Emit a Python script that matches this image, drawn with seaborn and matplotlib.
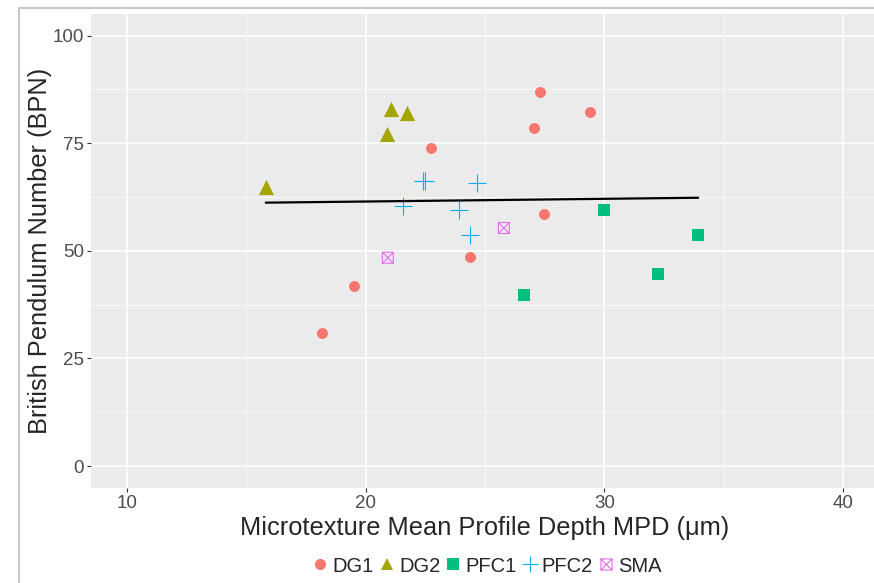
import numpy as np
import pandas as pd
import seaborn as sns
import matplotlib.pyplot as plt
from matplotlib.path import Path
from matplotlib.patches import Rectangle
from matplotlib.lines import Line2D

# values
dg1_mpd = [18.17, 19.51, 22.74, 24.37, 27.05, 27.30, 27.47, 29.39]
dg1_bpn = [31.0, 41.9, 73.9, 48.6, 78.5, 86.8, 58.6, 82.2]
dg2_mpd = [15.82, 20.89, 21.06, 21.73]
dg2_bpn = [64.8, 77.1, 82.9, 82.0]
pfc1_mpd = [26.63, 29.98, 32.25, 33.93]
pfc1_bpn = [39.8, 59.5, 44.7, 53.7]
pfc2_mpd = [22.40, 22.48, 21.56, 23.91, 24.37, 24.66]
pfc2_bpn = [66.2, 66.2, 60.4, 59.5, 53.7, 65.7]
sma_mpd = [20.93, 25.79]
sma_bpn = [48.4, 55.3]

groups = ["DG1", "DG2", "PFC1", "PFC2", "SMA"]
colors = ["#F8766D", "#A3A500", "#00BF7D", "#00B0F6", "#E76BF3"]

df = pd.concat([
    pd.DataFrame({"MPD": dg1_mpd, "BPN": dg1_bpn, "Site": "DG1"}),
    pd.DataFrame({"MPD": dg2_mpd, "BPN": dg2_bpn, "Site": "DG2"}),
    pd.DataFrame({"MPD": pfc1_mpd, "BPN": pfc1_bpn, "Site": "PFC1"}),
    pd.DataFrame({"MPD": pfc2_mpd, "BPN": pfc2_bpn, "Site": "PFC2"}),
    pd.DataFrame({"MPD": sma_mpd, "BPN": sma_bpn, "Site": "SMA"}),
], ignore_index=True)

# boxed cross marker (ggplot shape 7)
boxx = Path(
    [(-1, -1), (1, -1), (1, 1), (-1, 1), (-1, -1), (-1, -1), (1, 1), (-1, 1), (1, -1)],
    [Path.MOVETO, Path.LINETO, Path.LINETO, Path.LINETO, Path.CLOSEPOLY,
     Path.MOVETO, Path.LINETO, Path.MOVETO, Path.LINETO],
)

styles = {
    "DG1": dict(marker="o", s=62, linewidth=0),
    "DG2": dict(marker="^", s=120, linewidth=0),
    "PFC1": dict(marker="s", s=64, linewidth=0),
    "PFC2": dict(marker="+", s=150, linewidth=0.8),
    "SMA": dict(marker=boxx, s=62, linewidth=0.8, facecolor="none"),
}

sns.set_theme(style="darkgrid")
plt.rcParams["font.family"] = ["Liberation Sans", "DejaVu Sans"]

fig = plt.figure(figsize=(8.74, 5.83), dpi=100)
ax = fig.add_axes([0.1041, 0.1635, 0.9016, 0.8125])
ax.set_facecolor("#EBEBEB")

for g, c in zip(groups, colors):
    sub = df[df["Site"] == g]
    sns.scatterplot(data=sub, x="MPD", y="BPN", color=c, edgecolor=c, ax=ax,
                    legend=False, zorder=3, **styles[g])

sns.regplot(data=df, x="MPD", y="BPN", scatter=False, ci=None, ax=ax,
            line_kws=dict(color="black", linewidth=1.6, zorder=4))

ax.set_xlim(8.5, 41.5)
ax.set_ylim(-5, 105)
ax.set_xticks([10, 20, 30, 40])
ax.set_yticks([0, 25, 50, 75, 100])
ax.set_xticks([15, 25, 35], minor=True)
ax.set_yticks([12.5, 37.5, 62.5, 87.5], minor=True)
ax.grid(which="major", color="white", linewidth=1.1)
ax.grid(which="minor", color="white", linewidth=0.5)
ax.tick_params(which="major", length=3, width=0.8, color="#333333",
               labelsize=13.5, labelcolor="#4D4D4D", pad=2, bottom=True, left=True)
ax.tick_params(which="minor", length=0)
for sp in ax.spines.values():
    sp.set_visible(False)

ax.set_xlabel("Microtexture Mean Profile Depth MPD (μm)", fontsize=18.3, labelpad=3)
ax.set_ylabel("British Pendulum Number (BPN)", fontsize=18.3)
ax.yaxis.set_label_coords(-0.05, 0.5)

handles = [
    Line2D([], [], linestyle="none", marker=styles[g]["marker"],
           markersize=8 if g != "PFC2" else 11,
           markerfacecolor=("none" if g == "SMA" else c),
           markeredgecolor=c, markeredgewidth=(0.8 if g in ("PFC2", "SMA") else 0))
    for g, c in zip(groups, colors)
]
fig.legend(handles, groups, loc="center", bbox_to_anchor=(487 / 874, 1 - 566 / 583),
           ncol=5, frameon=False, fontsize=14.5, handlelength=0.8,
           handletextpad=0.2, columnspacing=0.25)

fig.patches.append(Rectangle((19 / 874, -0.1), 1.2, 1 - 8 / 583 + 0.1,
                             transform=fig.transFigure, fill=False,
                             edgecolor="#C8C8C8", linewidth=1.5))

fig.savefig("out.png", dpi=100)
